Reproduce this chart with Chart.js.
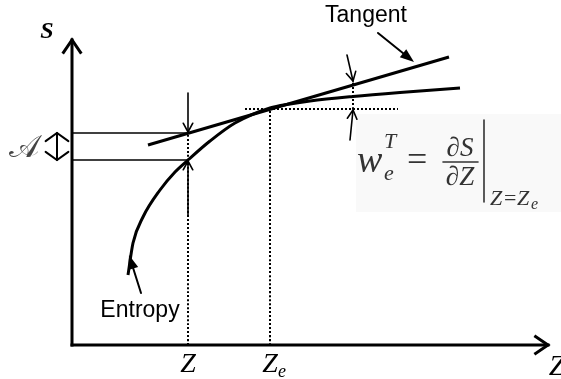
<!DOCTYPE html>
<html>
<head>
<meta charset="utf-8">
<script src="https://cdn.jsdelivr.net/npm/chart.js@4/dist/chart.umd.min.js"></script>
<style>
body { margin: 0; background: #fff; }
canvas { display: block; }
</style>
</head>
<body>
<canvas id="diagram" width="561" height="379"></canvas>
<script>
// entropy curve S(Z)
const entropyZ = [5.6, 6.1, 7.1, 8.8, 10.3, 11.6, 13.8, 16.3, 19.8, 21.8, 23.8, 28.1, 32.8, 38.8];
const entropyS = [7.0, 10.2, 12.8, 15.5, 17.3, 18.5, 20.4, 22.2, 23.7, 24.1, 24.4, 24.85, 25.25, 25.7];

// tangent line through Z = Ze
const tangentZ = [7.6, 37.7];
const tangentS = [20.0, 28.8];

// marked points on the Z axis
const zPoint = 11.6;
const zePoint = 19.8;
const tickValues = [zPoint, zePoint];
const tickLabels = ['Z', 'Z'];
const tickSubs = ['', 'e'];

// tangent and entropy values at Z (the gap A)
const levelS = [21.2, 18.5];
const sAtZe = 23.6;

// where the gap w is measured
const wZ = 28.1;
const wTop = 26.3;
const dashEndZ = [17.3, 32.6];

const axisEnd = { z: 47.6, s: 30.5 };

// arrows [fromZ, fromS, toZ, toS, filled]
const arrows = [
  [11.6, 25.2, 11.6, 21.3, false],
  [11.6, 13.0, 11.6, 18.4, false],
  [27.5, 29.0, 28.1, 26.4, false],
  [27.8, 20.5, 28.1, 23.5, false],
  [30.6, 31.2, 34.2, 28.3, true],
  [6.9, 5.2, 5.7, 9.0, true]
];

function pts(xs, ys) {
  return xs.map((v, i) => ({ x: v, y: ys[i] }));
}

function line(data, width, dash) {
  return {
    data: data,
    showLine: true,
    borderColor: '#000',
    borderWidth: width,
    borderDash: dash || [],
    pointRadius: 0,
    fill: false,
    clip: false
  };
}

function drawArrow(ctx, x1, y1, x2, y2, filled, width, head, spread) {
  const a = Math.atan2(y2 - y1, x2 - x1);
  ctx.lineWidth = width;
  ctx.beginPath();
  ctx.moveTo(x1, y1);
  ctx.lineTo(filled ? x2 - 6 * Math.cos(a) : x2, filled ? y2 - 6 * Math.sin(a) : y2);
  ctx.stroke();
  const lx = x2 - head * Math.cos(a - spread), ly = y2 - head * Math.sin(a - spread);
  const rx = x2 - head * Math.cos(a + spread), ry = y2 - head * Math.sin(a + spread);
  ctx.beginPath();
  ctx.moveTo(lx, ly);
  ctx.lineTo(x2, y2);
  ctx.lineTo(rx, ry);
  if (filled) {
    ctx.closePath();
    ctx.fill();
  } else {
    ctx.stroke();
  }
}

const overlay = {
  id: 'overlay',
  beforeDatasetsDraw(chart) {
    const ctx = chart.ctx;
    // faint box behind the formula
    ctx.save();
    ctx.fillStyle = '#f9f9f9';
    ctx.fillRect(356, 114, 205, 98);
    ctx.restore();
  },
  afterDatasetsDraw(chart) {
    const ctx = chart.ctx;
    const x = chart.scales.x, y = chart.scales.y;
    const px = v => x.getPixelForValue(v);
    const py = v => y.getPixelForValue(v);
    ctx.save();
    ctx.strokeStyle = '#000';
    ctx.fillStyle = '#000';
    ctx.lineCap = 'round';
    ctx.lineJoin = 'miter';

    // axes
    ctx.lineCap = 'square';
    drawArrow(ctx, px(0), py(0), px(0), py(axisEnd.s), false, 3, 15, 0.6);
    drawArrow(ctx, px(0), py(0), px(axisEnd.z), py(0), false, 3, 15, 0.6);
    ctx.lineCap = 'round';

    // small arrows
    arrows.forEach(a => {
      if (a[4]) drawArrow(ctx, px(a[0]), py(a[1]), px(a[2]), py(a[3]), true, 2, 15, 0.35);
      else drawArrow(ctx, px(a[0]), py(a[1]), px(a[2]), py(a[3]), false, 1.6, 10, 0.5);
    });

    // double arrow for A
    const ax = px(-1.5);
    drawArrow(ctx, ax, py(levelS[1]) - 1, ax, py(levelS[0]), false, 2, 14, 0.95);
    drawArrow(ctx, ax, py(levelS[0]) + 1, ax, py(levelS[1]), false, 2, 14, 0.95);

    // axis names
    ctx.textBaseline = 'alphabetic';
    ctx.textAlign = 'center';
    ctx.font = 'bold italic 24px "Liberation Serif"';
    ctx.fillText('S', px(-2.5), py(30.7));
    ctx.font = 'italic 30px "Liberation Serif"';
    ctx.fillText('Z', px(48.5), py(-3.0));

    // tick labels
    tickValues.forEach((v, i) => {
      ctx.font = 'italic 28px "Liberation Serif"';
      ctx.textAlign = 'center';
      ctx.fillText(tickLabels[i], px(v), py(-2.7));
      if (tickSubs[i]) {
        ctx.font = 'italic 18px "Liberation Serif"';
        ctx.textAlign = 'left';
        ctx.fillText(tickSubs[i], px(v) + 8, py(-3.2));
      }
    });

    // A label
    ctx.fillStyle = '#444';
    ctx.textAlign = 'center';
    ctx.font = '32px "DejaVu Serif"';
    ctx.fillText('\u{1D49C}', px(-4.8), py(18.8));

    // text labels
    ctx.fillStyle = '#000';
    ctx.font = '23px "Liberation Sans"';
    ctx.fillText('Tangent', px(29.4), py(32.3));
    ctx.fillText('Entropy', px(6.8), py(2.8));

    // formula w_e^T = dS/dZ | Z=Ze
    ctx.fillStyle = '#333';
    ctx.strokeStyle = '#333';
    ctx.textAlign = 'left';
    const fx = px(28.5), fy = py(17.3);
    ctx.font = 'italic 38px "Liberation Serif"';
    ctx.fillText('w', fx, fy);
    ctx.font = 'italic 22px "Liberation Serif"';
    ctx.fillText('T', fx + 27, fy - 24);
    ctx.fillText('e', fx + 27, fy + 8);
    ctx.font = '36px "Liberation Serif"';
    ctx.fillText('=', fx + 50, fy - 1);
    ctx.textAlign = 'center';
    ctx.font = 'italic 27px "Liberation Serif"';
    ctx.fillText('\u2202S', fx + 103, fy - 16);
    ctx.fillText('\u2202Z', fx + 103, fy + 13);
    ctx.lineWidth = 1.6;
    ctx.beginPath();
    ctx.moveTo(fx + 86, fy - 10);
    ctx.lineTo(fx + 121, fy - 10);
    ctx.stroke();
    ctx.beginPath();
    ctx.moveTo(fx + 127, fy - 52);
    ctx.lineTo(fx + 127, fy + 30);
    ctx.stroke();
    ctx.textAlign = 'left';
    ctx.font = 'italic 22px "Liberation Serif"';
    ctx.fillText('Z', fx + 133, fy + 33);
    ctx.font = '22px "Liberation Serif"';
    ctx.fillText('=', fx + 147, fy + 33);
    ctx.font = 'italic 22px "Liberation Serif"';
    ctx.fillText('Z', fx + 160, fy + 33);
    ctx.font = 'italic 16px "Liberation Serif"';
    ctx.fillText('e', fx + 174, fy + 37);
    ctx.restore();
  }
};

new Chart(document.getElementById('diagram'), {
  type: 'scatter',
  data: {
    datasets: [
      line(pts(entropyZ, entropyS), 3),
      line(pts(tangentZ, tangentS), 3),
      line([{ x: 0, y: levelS[0] }, { x: zPoint, y: levelS[0] }], 1.5),
      line([{ x: 0, y: levelS[1] }, { x: zPoint, y: levelS[1] }], 1.5),
      line([{ x: zPoint, y: 0 }, { x: zPoint, y: levelS[0] }], 2, [2, 2]),
      line([{ x: zePoint, y: 0 }, { x: zePoint, y: sAtZe + 0.1 }], 2, [2, 2]),
      line([{ x: dashEndZ[0], y: sAtZe }, { x: dashEndZ[1], y: sAtZe }], 2, [2, 2]),
      line([{ x: wZ, y: sAtZe }, { x: wZ, y: wTop }], 2, [2, 2])
    ]
  },
  options: {
    responsive: false,
    animation: false,
    layout: { padding: 0 },
    elements: { line: { cubicInterpolationMode: 'monotone' } },
    plugins: { legend: { display: false }, tooltip: { enabled: false } },
    scales: {
      x: { type: 'linear', display: false, min: -7.2, max: 48.9 },
      y: { type: 'linear', display: false, min: -3.4, max: 34.5 }
    }
  },
  plugins: [overlay]
});
</script>
</body>
</html>
